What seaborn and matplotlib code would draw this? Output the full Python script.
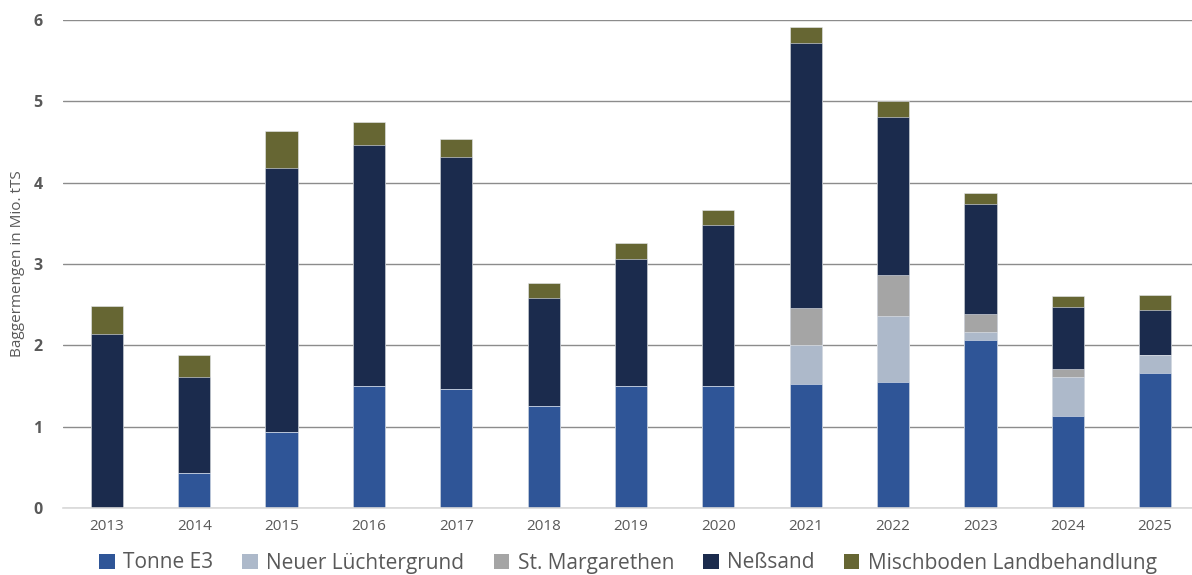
import matplotlib
matplotlib.use("Agg")
import matplotlib.pyplot as plt
from matplotlib.patches import Patch
import numpy as np
import seaborn as sns

years = ["2013", "2014", "2015", "2016", "2017", "2018", "2019",
         "2020", "2021", "2022", "2023", "2024", "2025"]

tonne_e3 = [0.00, 0.43, 0.93, 1.50, 1.46, 1.25, 1.50, 1.50, 1.53, 1.55, 2.07, 1.13, 1.66]
neuer_luechtergrund = [0.00, 0.00, 0.00, 0.00, 0.00, 0.00, 0.00, 0.00, 0.48, 0.81, 0.09, 0.48, 0.22]
st_margarethen = [0.00, 0.00, 0.00, 0.00, 0.00, 0.00, 0.00, 0.00, 0.45, 0.50, 0.23, 0.10, 0.00]
nesssand = [2.14, 1.18, 3.25, 2.96, 2.86, 1.33, 1.56, 1.98, 3.26, 1.95, 1.35, 0.76, 0.56]
mischboden = [0.34, 0.27, 0.46, 0.29, 0.22, 0.19, 0.20, 0.18, 0.19, 0.19, 0.13, 0.14, 0.18]

series_names = ["Tonne E3", "Neuer Lüchtergrund", "St. Margarethen",
                "Neßsand", "Mischboden Landbehandlung"]
series_values = [tonne_e3, neuer_luechtergrund, st_margarethen, nesssand, mischboden]
series_colors = ["#2F5597", "#ADB9CA", "#A5A5A5", "#1B2B4D", "#666633"]

sns.set_theme(style="white")
plt.rcParams["font.family"] = ["Open Sans", "DejaVu Sans"]

text_grey = "#595959"

fig = plt.figure(figsize=(11.92, 5.75), dpi=100)
ax = fig.add_axes([63.3 / 1192, 1 - 508 / 575, (1198.7 - 63.3) / 1192, (508 - 20) / 575])

# stacked bars: draw cumulative totals from the top layer down
cumulative = np.cumsum(np.array(series_values), axis=0)
for i in range(len(series_names) - 1, -1, -1):
    sns.barplot(x=years, y=cumulative[i], color=series_colors[i], width=0.37,
                saturation=1, edgecolor="#E6E9EF", linewidth=0.4, ax=ax, zorder=3)

ax.set_ylim(0, 6)
ax.set_xlim(-0.5, len(years) - 0.5)
ax.set_yticks(range(0, 7))
ax.yaxis.grid(True, color="#8C8C8C", linewidth=1.0, zorder=0)
ax.set_axisbelow(True)

for s in ["top", "right", "left"]:
    ax.spines[s].set_visible(False)
ax.spines["bottom"].set_color("#D9D9D9")
ax.spines["bottom"].set_linewidth(1.2)
ax.spines["bottom"].set_zorder(4)

ax.tick_params(axis="y", length=0, pad=15, labelsize=11.5, labelcolor=text_grey)
for lbl in ax.get_yticklabels():
    lbl.set_fontweight("bold")
ax.set_xticks(range(len(years)))
ax.set_xticklabels(years)
ax.tick_params(axis="x", which="major", length=0, pad=8, labelsize=11, labelcolor=text_grey)
ax.set_xticks(np.arange(-0.5, len(years), 1.0), minor=True)
ax.tick_params(axis="x", which="minor", length=6, width=1, color="#D9D9D9")

ax.set_xlabel("")
ax.set_ylabel("Baggermengen in Mio. tTS", fontsize=11, color=text_grey)
ax.yaxis.set_label_coords((25 - 63.3) / 1135.4, 0.5)

handles = [Patch(facecolor=c, edgecolor="none") for c in series_colors]
fig.legend(handles, series_names, loc="center", bbox_to_anchor=(628 / 1192, 1 - 563 / 575),
           ncol=5, frameon=False, fontsize=15, labelcolor=text_grey,
           handlelength=0.75, handleheight=0.75, handletextpad=0.4, columnspacing=1.4,
           borderaxespad=0)

fig.savefig("out.png", dpi=100)
